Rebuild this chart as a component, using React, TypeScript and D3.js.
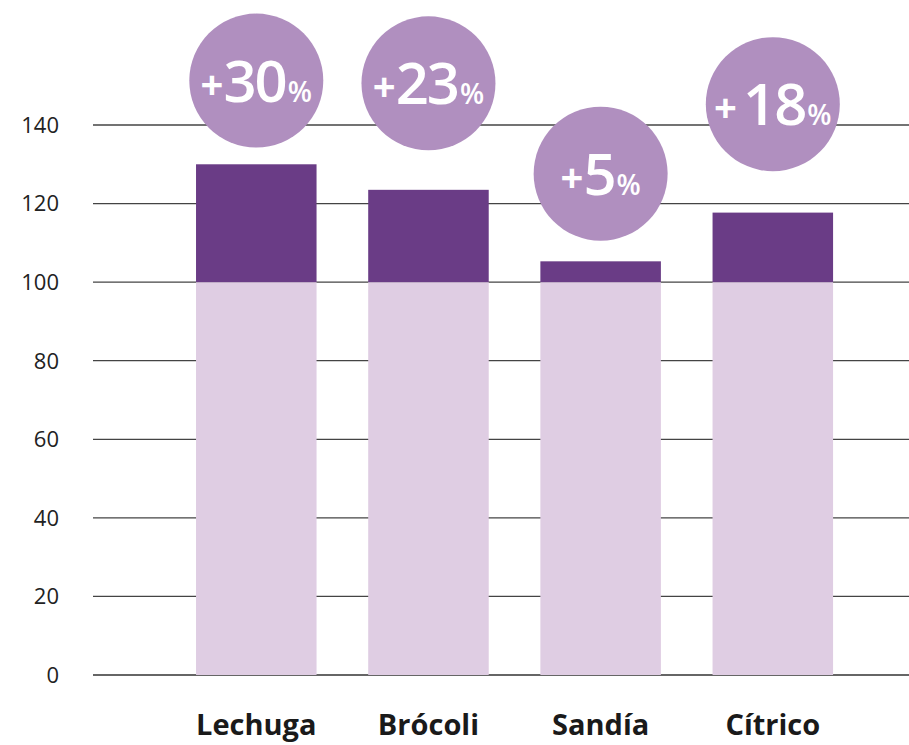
import React from "react";
import * as d3 from "d3";

const categories = ["Lechuga", "Brócoli", "Sandía", "Cítrico"];
const baseValues = [100, 100, 100, 100];
const totalValues = [130, 123.5, 105.3, 117.7];
const increaseLabels = ["30", "23", "5", "18"];
const badgeCenterValues = [151.3, 150.6, 127.6, 145.3];
const yTicks = [0, 20, 40, 60, 80, 100, 120, 140];

const W = 909;
const H = 745;

export default function App() {
  const y = d3.scaleLinear().domain([0, 140]).range([675, 125]);
  const x = d3
    .scaleBand<string>()
    .domain(categories)
    .range([170.2, 858.9])
    .paddingInner(0.3)
    .paddingOuter(0.15);
  const bw = x.bandwidth();
  const font = "'Open Sans', Lato, sans-serif";
  const r = 67;

  return (
    <svg
      width={W}
      height={H}
      style={{ position: "absolute", left: 0, top: 0, background: "#fff" }}
    >
      {yTicks.map((t) => (
        <g key={t}>
          <line
            x1={93}
            x2={W}
            y1={y(t)}
            y2={y(t)}
            stroke={t === 0 ? "#666" : "#444"}
            strokeWidth={t === 0 ? 1.8 : 1.3}
          />
          <text
            x={59}
            y={y(t)}
            dy="0.36em"
            textAnchor="end"
            fontFamily={font}
            fontSize={22}
            fill="#222"
          >
            {t}
          </text>
        </g>
      ))}
      {categories.map((c, i) => {
        const x0 = x(c) as number;
        const cx = x0 + bw / 2;
        const cy = y(badgeCenterValues[i]);
        return (
          <g key={c}>
            <rect
              x={x0}
              y={y(baseValues[i])}
              width={bw}
              height={y(0) - y(baseValues[i])}
              fill="#DFCDE3"
            />
            <rect
              x={x0}
              y={y(totalValues[i])}
              width={bw}
              height={y(baseValues[i]) - y(totalValues[i])}
              fill="#6A3C86"
            />
            <circle cx={cx} cy={cy} r={r} fill="#B08FBF" />
            <text
              x={cx}
              y={cy + 21}
              textAnchor="middle"
              fontFamily={font}
              fill="#fff"
              fontWeight={600}
            >
              <tspan fontSize={40} fontWeight={700} dy={-3}>+</tspan>
              <tspan fontSize={58} dy={3} dx={i === 3 ? 6 : 0} letterSpacing={-2}>{increaseLabels[i]}</tspan>
              <tspan fontSize={28} dx={2}>%</tspan>
            </text>
            <text
              x={cx}
              y={735}
              textAnchor="middle"
              fontFamily={font}
              fontWeight={700}
              fontSize={29}
              fill="#1a1a1a"
            >
              {c}
            </text>
          </g>
        );
      })}
    </svg>
  );
}
